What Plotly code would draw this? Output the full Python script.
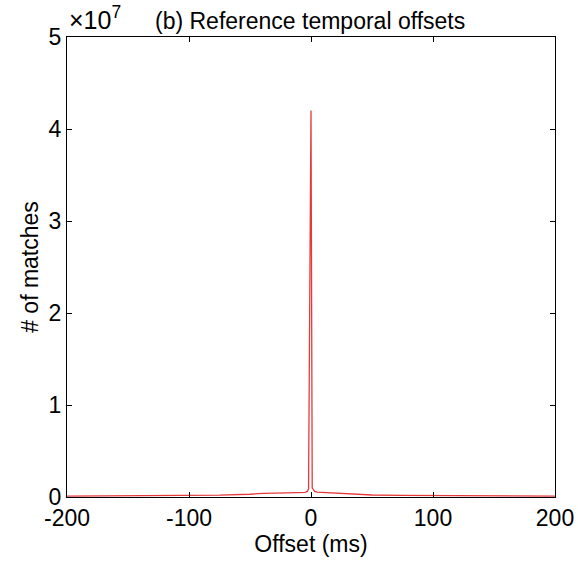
import plotly.graph_objects as go

# Histogram of reference temporal offsets (ms) vs. number of matches
offset_ms = [-200, -150, -100, -75, -50, -40, -20, -10, -5, -3, -2, -1, 0, 1, 2, 3,
             5, 10, 20, 30, 50, 75, 100, 150, 200]
matches = [1.0e5, 1.3e5, 1.5e5, 2.0e5, 3.0e5, 4.0e5, 4.5e5, 4.8e5, 5.0e5, 6.0e5, 9.0e5,
           2.2e7, 4.2e7, 1.0e6, 8.0e5, 6.0e5,
           5.2e5, 4.8e5, 4.2e5, 3.5e5, 2.2e5, 1.8e5, 1.5e5, 1.2e5, 1.0e5]

y_ticks = [0, 1e7, 2e7, 3e7, 4e7, 5e7]
y_tick_text = ["0", "1", "2", "3", "4", "5"]
x_ticks = [-200, -100, 0, 100, 200]
x_tick_text = ["-200", "-100", "0", "100", "200"]

FONT = "Liberation Sans, Arial, Helvetica, sans-serif"

fig = go.Figure(
    go.Scatter(x=offset_ms, y=matches, mode="lines",
               line=dict(color="#e63a3a", width=1.3), showlegend=False)
)

axis_style = dict(showline=True, linecolor="black", linewidth=1, mirror="allticks",
                  ticks="inside", ticklen=5, tickcolor="black", tickwidth=1,
                  showgrid=False, zeroline=False, automargin=False,
                  tickfont=dict(family=FONT, size=23, color="black"))

fig.update_xaxes(range=[-200, 200], tickvals=x_ticks, ticktext=x_tick_text,
                 title=dict(text="Offset (ms)", font=dict(family=FONT, size=23, color="black"),
                            standoff=4),
                 **axis_style)
fig.update_yaxes(range=[0, 5e7], tickvals=y_ticks, ticktext=y_tick_text,
                 title=dict(text="# of matches", font=dict(family=FONT, size=23, color="black"),
                            standoff=3),
                 **axis_style)

fig.add_annotation(text="×10<sup>7</sup>", xref="paper", yref="paper", x=0.0, y=1.0,
                   xanchor="left", yanchor="bottom", showarrow=False, yshift=1,
                   font=dict(family=FONT, size=25, color="black"))
fig.add_annotation(text="(b) Reference temporal offsets", xref="paper", yref="paper",
                   x=0.497, y=1.0, xanchor="center", yanchor="bottom", showarrow=False,
                   yshift=1, font=dict(family=FONT, size=23, color="black"))

fig.update_layout(width=578, height=564, paper_bgcolor="white", plot_bgcolor="white",
                  margin=dict(l=67, r=23, t=37, b=67))

fig.write_html("out.html")
